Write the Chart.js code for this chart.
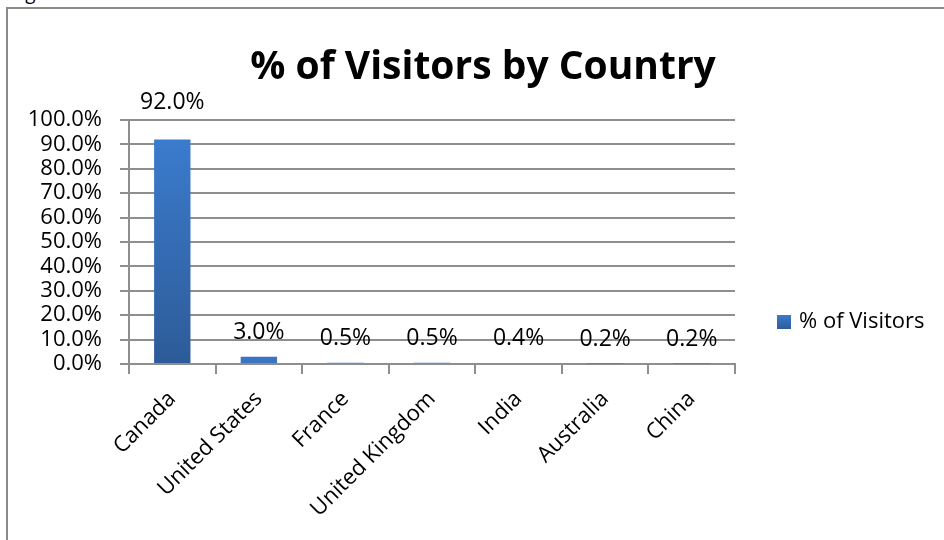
<!DOCTYPE html>
<html>
<head>
<meta charset="utf-8">
<script src="https://cdn.jsdelivr.net/npm/chart.js@4.4.1/dist/chart.umd.min.js"></script>
<style>
  body { margin: 0; overflow: hidden; background: #fff; width: 944px; height: 540px; position: relative; }
  #fig { position: absolute; left: 12px; top: -18px; font: italic 20px "Open Sans", sans-serif; line-height: 20px; color: #000; }
  #frame { position: absolute; left: 6px; top: 7px; width: 1000px; height: 1000px; border: 2px solid #8a8a8a; }
  #c { position: absolute; left: 0; top: 0; }
</style>
</head>
<body>
<div id="fig">Figure 6</div>
<div id="frame"></div>
<canvas id="c" width="944" height="540"></canvas>
<script>
var countries = ['Canada', 'United States', 'France', 'United Kingdom', 'India', 'Australia', 'China'];
var visitors = [92.0, 3.0, 0.5, 0.5, 0.4, 0.2, 0.2];
var yTicks = [0, 10, 20, 30, 40, 50, 60, 70, 80, 90, 100];

var FONT = '"Open Sans", sans-serif';
var GRID = '#8e8e8e';

function barFill(ctx) {
  var chart = ctx.chart;
  if (!chart.chartArea || ctx.type !== 'data') return '#3a72bd';
  var y = chart.scales.y;
  var top = y.getPixelForValue(ctx.parsed.y);
  var bot = y.getPixelForValue(0);
  if (bot - top < 12) return '#3a74c3';
  var g = chart.ctx.createLinearGradient(0, top, 0, bot);
  g.addColorStop(0, '#3b7bcd');
  g.addColorStop(1, '#2d5b98');
  return g;
}

var extras = {
  id: 'extras',
  afterDatasetsDraw: function(chart) {
    var c = chart.ctx;
    var meta = chart.getDatasetMeta(0);
    c.save();
    c.fillStyle = '#000';
    c.font = '23px ' + FONT;
    c.textAlign = 'center';
    c.textBaseline = 'alphabetic';
    meta.data.forEach(function(bar, i) {
      var yy = bar.y - 18;
      // label pushed above the plot when it would run into the top edge
      if (yy - 17 < chart.chartArea.top) yy = chart.chartArea.top - 11;
      c.fillText(visitors[i].toFixed(1) + '%', bar.x, yy);
    });
    c.restore();
  },
  afterDraw: function(chart) {
    var c = chart.ctx;
    c.save();
    // title
    c.fillStyle = '#000';
    c.font = 'bold 39px ' + FONT;
    c.textAlign = 'center';
    c.fillText('% of Visitors by Country', 483, 79);
    // legend
    var ds = chart.data.datasets[0];
    var g = c.createLinearGradient(0, 315, 0, 329);
    g.addColorStop(0, '#3b7bcd');
    g.addColorStop(1, '#2d5b98');
    c.fillStyle = g;
    c.fillRect(777, 315, 14, 14);
    c.fillStyle = '#000';
    c.font = '22px ' + FONT;
    c.textAlign = 'left';
    c.textBaseline = 'middle';
    c.fillText(ds.label, 799, 322);
    c.restore();
  }
};

new Chart(document.getElementById('c').getContext('2d'), {
  type: 'bar',
  data: {
    labels: countries,
    datasets: [{
      label: '% of Visitors',
      data: visitors,
      backgroundColor: barFill,
      categoryPercentage: 1,
      barPercentage: 0.42
    }]
  },
  options: {
    responsive: false,
    animation: false,
    layout: { padding: { left: 10, right: 209, top: 120, bottom: 0 } },
    plugins: { legend: { display: false }, title: { display: false }, tooltip: { enabled: false } },
    scales: {
      y: {
        min: 0,
        max: 100,
        afterFit: function(s) { s.width = 119; },
        afterBuildTicks: function(s) { s.ticks = yTicks.map(function(v) { return { value: v }; }); },
        ticks: {
          color: '#000',
          font: { family: FONT, size: 22 },
          padding: 18,
          autoSkip: false,
          callback: function(v) { return v.toFixed(1) + '%'; }
        },
        grid: { color: GRID, lineWidth: 2, tickLength: 9 },
        border: { color: GRID, width: 2 }
      },
      x: {
        afterFit: function(s) { s.height = 176; },
        ticks: {
          color: '#000',
          font: { family: FONT, size: 22 },
          minRotation: 45,
          maxRotation: 45,
          autoSkip: false,
          padding: 12
        },
        grid: { offset: true, drawOnChartArea: false, color: GRID, lineWidth: 2, tickLength: 10 },
        border: { color: GRID, width: 2 }
      }
    }
  },
  plugins: [extras]
});
</script>
</body>
</html>
